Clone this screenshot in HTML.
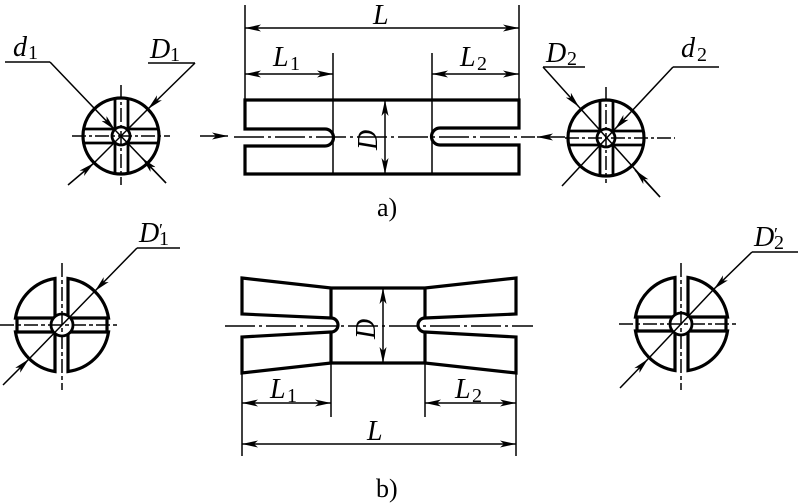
<!DOCTYPE html>
<html><head><meta charset="utf-8"><style>
html,body{margin:0;padding:0;background:#fff;}
svg{display:block;}
text{font-family:"Liberation Serif",serif;fill:#000;}
.it{font-style:italic;}
</style></head><body>
<svg width="798" height="503" viewBox="0 0 798 503" xmlns="http://www.w3.org/2000/svg">
<defs>
<marker id="a" viewBox="0 0 16 7" refX="16" refY="3.5" markerWidth="16" markerHeight="7" markerUnits="userSpaceOnUse" orient="auto-start-reverse">
<path d="M0,0 L16,3.5 L0,7 L4,3.5 Z" fill="#000"/>
</marker>
</defs>
<g fill="none" stroke="#000" stroke-width="1.5">
<!-- ===== a) left circle ===== -->
<circle cx="121" cy="136" r="38" stroke-width="3.2"/>
<line x1="115" y1="99" x2="115" y2="173" stroke-width="2.8"/>
<line x1="128" y1="99" x2="128" y2="173" stroke-width="2.8"/>
<line x1="84" y1="129" x2="158" y2="129" stroke-width="2.8"/>
<line x1="84" y1="143" x2="158" y2="143" stroke-width="2.8"/>
<circle cx="121" cy="136" r="9" stroke-width="2.8" fill="#fff"/>
<line x1="121" y1="85" x2="121" y2="185" stroke-dasharray="14,3,3,3"/>
<line x1="72" y1="136" x2="170" y2="136" stroke-dasharray="14,3,3,3"/>
<line x1="5" y1="62" x2="50" y2="62"/>
<polyline points="50,62 115,130" marker-end="url(#a)"/>
<line x1="115" y1="130" x2="166" y2="183"/>
<line x1="148" y1="63" x2="195" y2="63"/>
<polyline points="195,63 148,109" marker-end="url(#a)"/>
<line x1="148" y1="109" x2="94" y2="163"/>
<polyline points="68,185 94,163" marker-end="url(#a)"/>
<polyline points="166,183 142,158" marker-end="url(#a)"/>
<polyline points="200,136 228,136" marker-end="url(#a)"/>
<!-- ===== a) bar ===== -->
<path d="M245,100 H519 V128 H440 A8.5,8.5 0 0 0 440,145 H519 V174 H245 V146 H325 A8.5,8.5 0 0 0 325,129 H245 Z" stroke-width="3.2"/>
<line x1="333" y1="53" x2="333" y2="174"/>
<line x1="432" y1="53" x2="432" y2="174"/>
<line x1="245" y1="5" x2="245" y2="100"/>
<line x1="519" y1="5" x2="519" y2="100"/>
<line x1="245" y1="28" x2="519" y2="28" marker-start="url(#a)" marker-end="url(#a)"/>
<line x1="245" y1="74" x2="333" y2="74" marker-start="url(#a)" marker-end="url(#a)"/>
<line x1="432" y1="74" x2="519" y2="74" marker-start="url(#a)" marker-end="url(#a)"/>
<line x1="385" y1="100" x2="385" y2="174" marker-start="url(#a)" marker-end="url(#a)"/>
<line x1="234" y1="137" x2="535" y2="137" stroke-dasharray="30,4,3,4"/>
<!-- ===== a) right circle ===== -->
<circle cx="606" cy="138" r="38" stroke-width="3.2"/>
<line x1="600" y1="101" x2="600" y2="175" stroke-width="2.8"/>
<line x1="613" y1="101" x2="613" y2="175" stroke-width="2.8"/>
<line x1="569" y1="131" x2="643" y2="131" stroke-width="2.8"/>
<line x1="569" y1="145" x2="643" y2="145" stroke-width="2.8"/>
<circle cx="606" cy="138" r="9" stroke-width="2.8" fill="#fff"/>
<line x1="606" y1="87" x2="606" y2="183" stroke-dasharray="14,3,3,3"/>
<line x1="565" y1="138" x2="675" y2="138" stroke-dasharray="14,3,3,3"/>
<polyline points="565,137 537,137" marker-end="url(#a)"/>
<line x1="543" y1="67" x2="585" y2="67"/>
<polyline points="543,67 579,107" marker-end="url(#a)"/>
<line x1="579" y1="107" x2="660" y2="197"/>
<polyline points="660,197 635,170" marker-end="url(#a)"/>
<line x1="673" y1="67" x2="719" y2="67"/>
<polyline points="673,67 615,129" marker-end="url(#a)"/>
<line x1="615" y1="129" x2="562" y2="186"/>
<!-- ===== b) left circle ===== -->
<g stroke-width="3.2">
<path d="M55,318 V278.5 A47,47 0 0 0 15.5,318 Z"/>
<path d="M68,318 V278.5 A47,47 0 0 1 108.5,318 Z"/>
<path d="M55,332 V371.5 A47,47 0 0 1 15.5,332 Z"/>
<path d="M68,332 V371.5 A47,47 0 0 0 108.5,332 Z"/>
<line x1="17" y1="318" x2="17" y2="332"/>
<line x1="107" y1="318" x2="107" y2="332"/>
</g>
<circle cx="62" cy="325" r="11" stroke-width="2.8" fill="#fff"/>
<line x1="62" y1="263" x2="62" y2="390" stroke-dasharray="14,3,4,3"/>
<line x1="0" y1="325" x2="118" y2="325" stroke-dasharray="14,3,4,3"/>
<line x1="137" y1="248" x2="180" y2="248"/>
<polyline points="137,248 95,291" marker-end="url(#a)"/>
<line x1="95" y1="291" x2="29" y2="359"/>
<polyline points="3,385 29,359" marker-end="url(#a)"/>
<!-- ===== b) bar ===== -->
<path d="M242,278 L331,288 H425 L516,278 V314 L425,318 A7,7 0 0 0 425,332 L516,337 V373 L425,363 H331 L242,373 V337 L331,332 A7,7 0 0 0 331,318 L242,314 Z" stroke-width="3.2"/>
<line x1="331" y1="288" x2="331" y2="318" stroke-width="3.2"/>
<line x1="331" y1="332" x2="331" y2="363" stroke-width="3.2"/>
<line x1="425" y1="288" x2="425" y2="318" stroke-width="3.2"/>
<line x1="425" y1="332" x2="425" y2="363" stroke-width="3.2"/>
<line x1="331" y1="363" x2="331" y2="417"/>
<line x1="425" y1="363" x2="425" y2="417"/>
<line x1="242" y1="373" x2="242" y2="456"/>
<line x1="516" y1="373" x2="516" y2="456"/>
<line x1="242" y1="403" x2="331" y2="403" marker-start="url(#a)" marker-end="url(#a)"/>
<line x1="425" y1="403" x2="516" y2="403" marker-start="url(#a)" marker-end="url(#a)"/>
<line x1="242" y1="444" x2="516" y2="444" marker-start="url(#a)" marker-end="url(#a)"/>
<line x1="383" y1="288" x2="383" y2="363" marker-start="url(#a)" marker-end="url(#a)"/>
<line x1="225" y1="326" x2="533" y2="326" stroke-dasharray="30,4,3,4"/>
<!-- ===== b) right circle ===== -->
<g stroke-width="3.2">
<path d="M675,317 V277.5 A47,47 0 0 0 635.5,317 Z"/>
<path d="M688,317 V277.5 A47,47 0 0 1 727.5,317 Z"/>
<path d="M675,331 V370.5 A47,47 0 0 1 635.5,331 Z"/>
<path d="M688,331 V370.5 A47,47 0 0 0 727.5,331 Z"/>
<line x1="637" y1="317" x2="637" y2="331"/>
<line x1="726" y1="317" x2="726" y2="331"/>
</g>
<circle cx="681" cy="324" r="11" stroke-width="2.8" fill="#fff"/>
<line x1="681" y1="263" x2="681" y2="390" stroke-dasharray="14,3,4,3"/>
<line x1="619" y1="324" x2="738" y2="324" stroke-dasharray="14,3,4,3"/>
<line x1="752" y1="252" x2="798" y2="252"/>
<polyline points="752,252 714,289" marker-end="url(#a)"/>
<line x1="714" y1="289" x2="648" y2="359"/>
<polyline points="620,388 648,359" marker-end="url(#a)"/>
</g>
<!-- labels -->
<g font-size="28">
<text x="13" y="56" class="it">d</text><text x="28" y="59" font-size="20">1</text>
<text x="150" y="58" class="it">D</text><text x="170" y="61" font-size="20">1</text>
<text x="373" y="24" class="it">L</text>
<text x="273" y="66" class="it">L</text><text x="290" y="70" font-size="20">1</text>
<text x="460" y="66" class="it">L</text><text x="477" y="70" font-size="20">2</text>
<text x="546" y="62" class="it">D</text><text x="567" y="65" font-size="20">2</text>
<text x="681" y="57" class="it">d</text><text x="697" y="61" font-size="20">2</text>
<text transform="translate(377,150) rotate(-90)" class="it">D</text>
<text x="377" y="216" font-size="26">a)</text>
<text x="139" y="242" class="it">D</text><text x="159" y="236" font-size="18">′</text><text x="159" y="245" font-size="20">1</text>
<text x="754" y="246" class="it">D</text><text x="774" y="240" font-size="18">′</text><text x="774" y="249" font-size="20">2</text>
<text transform="translate(375,339) rotate(-90)" class="it">D</text>
<text x="270" y="398" class="it">L</text><text x="287" y="402" font-size="20">1</text>
<text x="455" y="398" class="it">L</text><text x="472" y="402" font-size="20">2</text>
<text x="367" y="440" class="it">L</text>
<text x="376" y="497" font-size="26">b)</text>
</g>
</svg>
</body></html>
